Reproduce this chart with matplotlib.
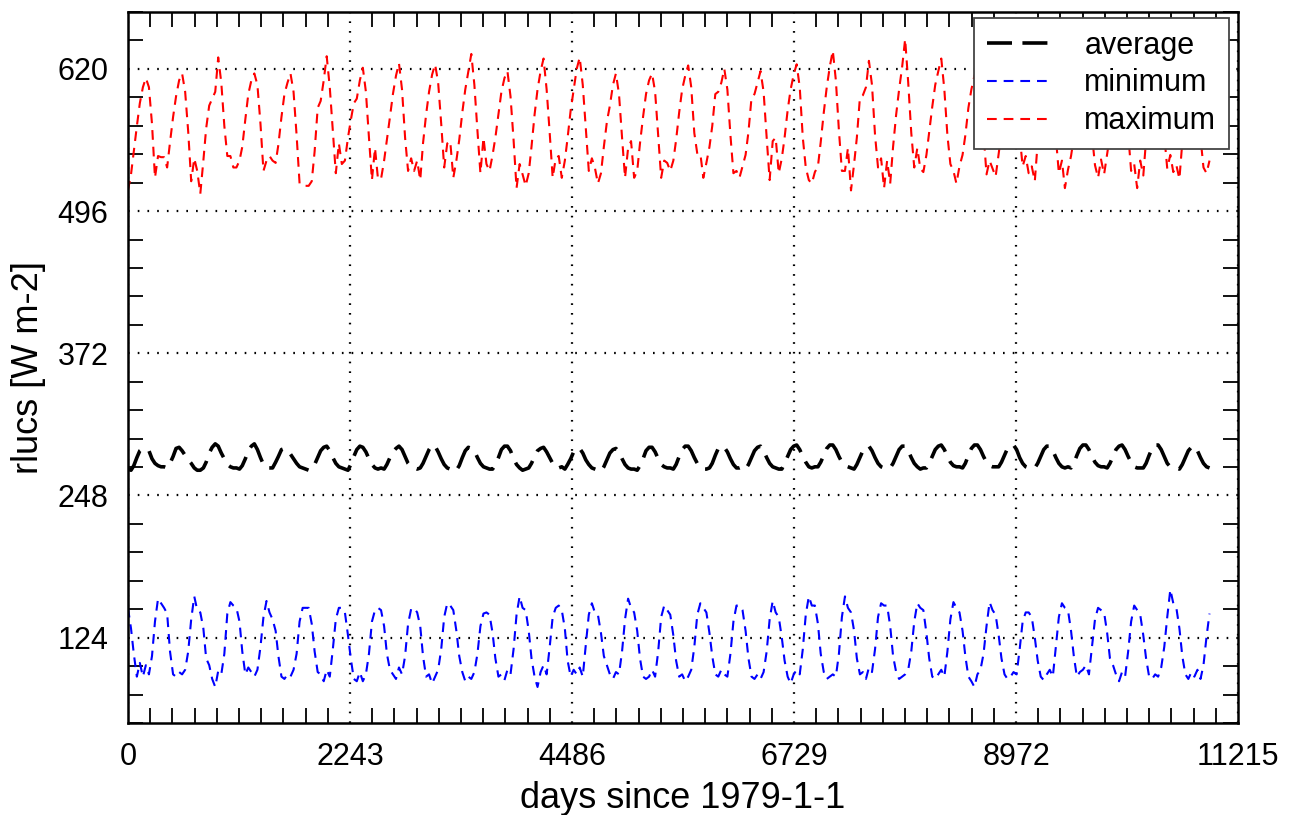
import numpy as np
import pandas as pd
import matplotlib
matplotlib.use("Agg")
import matplotlib.pyplot as plt

plt.rcParams['font.family'] = ['Liberation Sans', 'DejaVu Sans']
plt.rcParams['lines.scale_dashes'] = False

# monthly values 1979-01 .. 2008-12, one row per year (Jan..Dec)
max_rows = [
    [514, 528, 548, 570, 590, 604, 612, 604, 572, 525, 544, 543],
    [543, 534, 556, 578, 596, 610, 616, 600, 565, 522, 542, 531],
    [511, 540, 568, 588, 594, 600, 630, 608, 570, 544, 544, 534],
    [534, 540, 552, 576, 598, 610, 616, 606, 572, 531, 540, 544],
    [540, 538, 554, 578, 598, 608, 616, 600, 562, 520, 518, 518],
    [518, 522, 548, 586, 592, 610, 631, 604, 566, 529, 555, 537],
    [540, 560, 575, 590, 594, 610, 621, 600, 560, 523, 551, 524],
    [524, 540, 558, 578, 598, 614, 625, 602, 560, 531, 542, 531],
    [540, 523, 555, 580, 600, 615, 624, 608, 572, 534, 555, 557],
    [525, 540, 558, 582, 602, 618, 633, 606, 566, 529, 560, 537],
    [531, 545, 560, 580, 600, 612, 618, 596, 558, 516, 537, 528],
    [518, 529, 552, 580, 602, 618, 629, 602, 564, 525, 542, 544],
    [525, 540, 560, 584, 602, 620, 630, 606, 568, 531, 542, 534],
    [520, 529, 552, 574, 588, 606, 616, 598, 560, 525, 551, 557],
    [525, 531, 555, 578, 598, 610, 616, 600, 562, 525, 540, 538],
    [531, 540, 558, 582, 602, 614, 623, 604, 564, 546, 546, 525],
    [538, 552, 570, 598, 600, 608, 620, 602, 562, 529, 531, 525],
    [535, 545, 565, 595, 598, 608, 618, 600, 560, 523, 557, 560],
    [529, 542, 560, 584, 602, 615, 624, 604, 560, 534, 523, 520],
    [530, 535, 556, 582, 604, 622, 636, 610, 566, 531, 531, 551],
    [514, 537, 560, 595, 597, 604, 627, 606, 562, 534, 542, 516],
    [540, 520, 552, 580, 602, 622, 646, 608, 564, 534, 551, 533],
    [530, 545, 565, 587, 606, 618, 629, 602, 562, 537, 531, 520],
    [535, 545, 562, 586, 602, 614, 620, 602, 564, 528, 540, 533],
    [526, 546, 565, 587, 604, 617, 624, 605, 562, 535, 544, 529],
    [535, 522, 556, 582, 600, 613, 618, 600, 560, 529, 540, 516],
    [532, 544, 560, 584, 602, 617, 626, 604, 562, 536, 525, 541],
    [528, 546, 562, 586, 604, 615, 620, 602, 564, 531, 537, 516],
    [540, 527, 558, 582, 602, 618, 628, 604, 562, 533, 545, 530],
    [536, 524, 556, 580, 600, 613, 619, 600, 560, 534, 529, 540],
]

min_rows = [
    [150, 132, 110, 90, 102, 90, 100, 92, 108, 138, 158, 154],
    [150, 145, 112, 92, 90, 94, 92, 96, 112, 140, 160, 148],
    [146, 132, 106, 100, 88, 81, 95, 92, 110, 145, 155, 152],
    [150, 138, 112, 92, 98, 94, 90, 96, 116, 142, 156, 146],
    [140, 130, 108, 90, 88, 92, 90, 96, 110, 138, 150, 150],
    [150, 136, 112, 94, 92, 86, 96, 90, 114, 140, 150, 150],
    [146, 126, 106, 88, 86, 94, 86, 92, 110, 138, 148, 150],
    [148, 134, 110, 96, 92, 88, 98, 92, 108, 136, 149, 150],
    [146, 134, 108, 90, 92, 84, 90, 96, 114, 142, 154, 152],
    [148, 130, 108, 94, 86, 90, 88, 94, 110, 134, 145, 146],
    [144, 128, 106, 90, 92, 87, 96, 92, 114, 144, 160, 150],
    [148, 130, 106, 90, 81, 94, 100, 92, 116, 142, 150, 152],
    [148, 132, 104, 90, 96, 92, 98, 90, 118, 144, 154, 146],
    [144, 128, 108, 100, 92, 88, 94, 92, 112, 140, 158, 150],
    [146, 130, 106, 90, 88, 90, 96, 90, 112, 142, 152, 148],
    [144, 126, 104, 90, 92, 86, 90, 96, 116, 144, 154, 150],
    [146, 128, 108, 92, 90, 96, 92, 90, 110, 138, 152, 152],
    [148, 130, 106, 90, 88, 92, 88, 94, 112, 140, 156, 146],
    [142, 124, 104, 90, 84, 92, 96, 92, 114, 144, 160, 152],
    [152, 136, 110, 94, 88, 90, 92, 90, 110, 142, 160, 150],
    [146, 130, 106, 92, 94, 88, 98, 94, 114, 142, 154, 152],
    [152, 134, 108, 94, 88, 90, 92, 96, 112, 138, 154, 150],
    [148, 128, 106, 90, 88, 92, 96, 90, 112, 140, 155, 150],
    [146, 130, 108, 90, 86, 81, 92, 96, 110, 134, 155, 148],
    [144, 126, 106, 92, 88, 90, 94, 92, 114, 138, 146, 146],
    [142, 124, 104, 90, 87, 92, 96, 90, 116, 142, 154, 150],
    [148, 130, 108, 90, 94, 96, 100, 92, 116, 140, 150, 148],
    [146, 128, 106, 100, 92, 86, 94, 90, 112, 138, 152, 148],
    [144, 126, 106, 90, 88, 92, 90, 98, 116, 142, 166, 154],
    [150, 132, 108, 92, 88, 94, 90, 96, 88, 100, 125, 145],
]

avg_rows = [
    [271, 270, 274, 281, 287, 289, 288, 287, 280, 276, 274, 273],
    [273, 272, 276, 282, 289, 290, 287, 283, 279, 276, 272, 270],
    [270, 272, 277, 285, 290, 293, 291, 285, 280, 275, 273, 272],
    [272, 271, 274, 280, 287, 291, 293, 288, 281, 275, 272, 272],
    [272, 277, 282, 288, 289, 287, 284, 280, 276, 273, 272, 271],
    [270, 271, 275, 281, 287, 290, 291, 287, 281, 276, 273, 272],
    [271, 270, 275, 282, 288, 291, 290, 286, 280, 275, 272, 271],
    [272, 271, 275, 281, 286, 289, 291, 288, 282, 276, 273, 272],
    [271, 272, 276, 282, 288, 292, 291, 286, 280, 275, 272, 271],
    [272, 270, 274, 281, 287, 290, 289, 287, 281, 276, 273, 272],
    [271, 271, 275, 281, 288, 291, 291, 287, 280, 275, 272, 270],
    [271, 272, 276, 282, 287, 289, 290, 286, 281, 276, 272, 272],
    [273, 271, 275, 280, 286, 289, 289, 285, 279, 275, 272, 271],
    [270, 269, 273, 279, 285, 288, 289, 286, 280, 275, 272, 271],
    [271, 270, 274, 280, 287, 290, 290, 286, 280, 275, 273, 272],
    [272, 271, 275, 282, 288, 291, 291, 287, 281, 276, 273, 271],
    [271, 272, 276, 283, 289, 291, 290, 286, 280, 275, 272, 272],
    [273, 271, 275, 281, 287, 290, 291, 287, 281, 276, 273, 272],
    [271, 271, 276, 282, 288, 291, 292, 288, 282, 277, 273, 272],
    [273, 273, 277, 283, 289, 292, 292, 288, 282, 277, 274, 273],
    [272, 271, 275, 281, 287, 290, 291, 287, 281, 276, 273, 272],
    [272, 272, 276, 282, 288, 291, 291, 287, 281, 276, 273, 271],
    [272, 272, 276, 282, 288, 291, 292, 288, 282, 277, 274, 273],
    [273, 272, 276, 283, 289, 292, 292, 288, 282, 277, 274, 273],
    [273, 273, 277, 283, 289, 291, 292, 288, 281, 276, 273, 272],
    [272, 272, 276, 282, 288, 291, 291, 287, 281, 276, 273, 272],
    [273, 272, 276, 283, 289, 292, 292, 288, 282, 277, 274, 273],
    [273, 272, 276, 282, 288, 291, 292, 288, 282, 277, 273, 272],
    [272, 272, 276, 283, 289, 292, 292, 288, 282, 276, 273, 272],
    [272, 271, 275, 281, 287, 290, 291, 287, 281, 276, 273, 272],
]

x_ticks = [0, 2243, 4486, 6729, 8972, 11215]
y_ticks = [124, 248, 372, 496, 620]

dates = pd.date_range("1979-01-01", periods=360, freq="MS")
days = (dates - pd.Timestamp("1979-01-01")).days.values
avg = np.array(avg_rows).ravel()
vmin = np.array(min_rows).ravel()
vmax = np.array(max_rows).ravel()

fig = plt.figure(figsize=(12.95, 8.15), dpi=100)
ax = fig.add_axes([0.0988, 0.1129, 0.8572, 0.8724])

ax.plot(days, avg, color="black", lw=2.6, dashes=(18, 7.5), label="average")
ax.plot(days, vmin, color="blue", lw=1.5, dashes=(7, 5), label="minimum")
ax.plot(days, vmax, color="red", lw=1.5, dashes=(7, 5), label="maximum")

ax.set_xlim(0, 11215)
ax.set_ylim(49.6, 669.6)
ax.set_xticks(x_ticks)
ax.set_yticks(y_ticks)
ax.set_xticks(np.arange(0, 11216, 224.3), minor=True)
ax.set_yticks(np.arange(49.6, 670, 24.8), minor=True)
ax.tick_params(which="major", length=0, labelsize=22, pad=14)
ax.tick_params(which="minor", direction="in", length=11, width=1.3,
               top=True, right=True)
ax.grid(True, which="major", color="black", lw=1.6, ls=(0, (1.2, 5.8)))
for s in ax.spines.values():
    s.set_linewidth(1.8)

ax.set_xlabel("days since 1979-1-1", fontsize=26, labelpad=6)
ax.set_ylabel("rlucs [W m-2]", fontsize=26, labelpad=8)

leg = ax.legend(loc="upper right", bbox_to_anchor=(0.992, 0.992), borderaxespad=0,
                fontsize=22, handlelength=2.0, handletextpad=1.2, labelspacing=0.26,
                borderpad=0.42, fancybox=False, framealpha=1)
leg.get_frame().set_edgecolor("#444444")
leg.get_frame().set_linewidth(1.3)

fig.savefig("out.png", dpi=100)
